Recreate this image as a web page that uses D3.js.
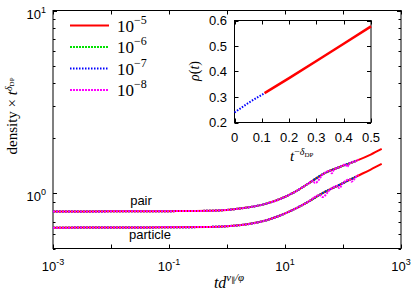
<!DOCTYPE html>
<html>
<head>
<meta charset="utf-8">
<script src="https://cdn.jsdelivr.net/npm/d3@7"></script>
<style>
  body { margin: 0; background: #fff; }
  svg { display: block; }
  .tick-label { font-family: "Liberation Sans", Arial, sans-serif; font-size: 13px; fill: #000; }
  .serif { font-family: "Liberation Serif", "DejaVu Serif", serif; fill: #000; }
</style>
</head>
<body>
<div id="main"></div>
<script>
// ---- data ----
const legendLabels = ["-5", "-6", "-7", "-8"];
const seriesColors = ["#ff0000", "#00e000", "#0000ff", "#ff00ff"];
const seriesDash = [null, "2,1", "1.5,1.5", "2,1"];

// t d^(nu/phi) vs density * t^delta, smallest d (10^-5) reaches furthest
const pairT   = [0.001, 0.01, 0.1, 0.5, 1, 2.2, 4.8, 8.2, 14.8, 25, 46, 90, 172, 300, 465];
const pairV   = [0.797, 0.798, 0.800, 0.804, 0.813, 0.837, 0.880, 0.932, 1.02, 1.13, 1.28, 1.40, 1.51, 1.63, 1.75];
const partT   = [0.001, 0.01, 0.1, 0.5, 1, 2.2, 4.8, 8.2, 14.8, 25, 46, 90, 172, 300, 465];
const partV   = [0.650, 0.651, 0.653, 0.656, 0.662, 0.678, 0.714, 0.757, 0.823, 0.90, 1.01, 1.12, 1.24, 1.35, 1.45];
// magenta (10^-8) shows a few noisy dips near the end
const pairMagT = [0.001, 0.1, 0.5, 1, 2.2, 4.8, 8.2, 14.8, 25, 30, 33, 46, 60, 64, 70, 90, 110, 118, 130, 172, 185];
const pairMagV = [0.797, 0.800, 0.804, 0.813, 0.837, 0.880, 0.932, 1.02, 1.13, 1.17, 1.14, 1.28, 1.33, 1.29, 1.35, 1.40, 1.44, 1.40, 1.46, 1.51, 1.53];
const partMagT = [0.001, 0.1, 0.5, 1, 2.2, 4.8, 8.2, 14.8, 25, 40, 44, 60, 80, 86, 100, 130, 140, 172, 185];
const partMagV = [0.650, 0.653, 0.656, 0.662, 0.678, 0.714, 0.757, 0.823, 0.90, 0.98, 0.955, 1.05, 1.10, 1.07, 1.14, 1.19, 1.16, 1.24, 1.26];
const otherEnd = 185;   // green/blue/magenta stop here

// inset: rho(t) vs t^-delta
const insetRedX  = [0.11, 0.2, 0.3, 0.4, 0.5];
const insetRedY  = [0.315, 0.374, 0.441, 0.509, 0.577];
const insetBlueX = [0, 0.05, 0.11];
const insetBlueY = [0.239, 0.276, 0.315];

const xTicks = [-3, -2, -1, 0, 1, 2, 3];
const xLabelExp = [-3, -1, 1, 3];
const insetXTicks = [0, 0.1, 0.2, 0.3, 0.4, 0.5];
const insetYTicks = [0.2, 0.3, 0.4, 0.5, 0.6];

const w = 415, h = 296;
const L = 53, R = 401, T = 10.5, B = 248.5;

const svg = d3.select("#main").append("svg").attr("width", w).attr("height", h);

const x = d3.scaleLog().domain([1e-3, 1e3]).range([L, R]);
const y = d3.scaleLog().domain([0.5, 10]).range([B, T]);

// frame
svg.append("rect").attr("x", L).attr("y", T).attr("width", R - L).attr("height", B - T)
  .attr("fill", "none").attr("stroke", "#000").attr("stroke-width", 1);

// x ticks (every decade, bottom and top, inward)
xTicks.forEach(e => {
  const px = Math.round(x(Math.pow(10, e))) + 0.5;
  svg.append("line").attr("x1", px).attr("x2", px).attr("y1", B).attr("y2", B - 4).attr("stroke", "#000");
  svg.append("line").attr("x1", px).attr("x2", px).attr("y1", T).attr("y2", T + 4).attr("stroke", "#000");
});
xLabelExp.forEach(e => {
  const t = svg.append("text").attr("class", "tick-label").attr("x", x(Math.pow(10, e)))
    .attr("y", 271).attr("text-anchor", "middle");
  t.append("tspan").text("10");
  t.append("tspan").attr("dy", -6).attr("font-size", 9).text(e);
});

// y ticks
const yMajor = [1, 10];
const yMinor = [0.5, 0.6, 0.7, 0.8, 0.9, 2, 3, 4, 5, 6, 7, 8, 9];
yMajor.concat(yMinor).forEach(v => {
  const len = yMajor.includes(v) ? 4 : 2.5;
  const py = Math.round(y(v)) + 0.5;
  svg.append("line").attr("x1", L).attr("x2", L + len).attr("y1", py).attr("y2", py).attr("stroke", "#000");
  svg.append("line").attr("x1", R).attr("x2", R - len).attr("y1", py).attr("y2", py).attr("stroke", "#000");
});
yMajor.forEach((v, i) => {
  const t = svg.append("text").attr("class", "tick-label").attr("x", 46)
    .attr("y", y(v) + 8).attr("text-anchor", "end");
  t.append("tspan").text("10");
  t.append("tspan").attr("dy", -6).attr("font-size", 9).text(i === 0 ? "0" : "1");
});

// curves
const clip = svg.append("clipPath").attr("id", "plotclip");
clip.append("rect").attr("x", L).attr("y", T).attr("width", R - L).attr("height", B - T);

const line = d3.line().x(d => x(d[0])).y(d => y(d[1])).curve(d3.curveMonotoneX);
const zipPts = (ts, vs) => ts.map((t, i) => [t, vs[i]]);
const cut = pts => pts.filter(p => p[0] <= otherEnd);

const curves = [
  [zipPts(pairT, pairV), zipPts(partT, partV)],
  [cut(zipPts(pairT, pairV)), cut(zipPts(partT, partV))],
  [cut(zipPts(pairT, pairV)), cut(zipPts(partT, partV))],
  [zipPts(pairMagT, pairMagV), zipPts(partMagT, partMagV)]
];
const g = svg.append("g").attr("clip-path", "url(#plotclip)");
curves.forEach((pair, k) => {
  pair.forEach(pts => {
    g.append("path").attr("d", line(pts)).attr("fill", "none")
      .attr("stroke", seriesColors[k]).attr("stroke-width", 2)
      .attr("stroke-dasharray", seriesDash[k]);
  });
});

svg.append("text").attr("class", "tick-label").attr("x", 141).attr("y", 205)
  .attr("text-anchor", "middle").text("pair");
svg.append("text").attr("class", "tick-label").attr("x", 150).attr("y", 239)
  .attr("text-anchor", "middle").text("particle");

// legend
legendLabels.forEach((lab, i) => {
  const ly = 25.5 + i * 21.5;
  svg.append("line").attr("x1", 70).attr("x2", 109).attr("y1", ly).attr("y2", ly)
    .attr("stroke", seriesColors[i]).attr("stroke-width", 2)
    .attr("stroke-dasharray", seriesDash[i]);
  const t = svg.append("text").attr("class", "serif").attr("x", 117).attr("y", ly + 6)
    .attr("font-size", 17);
  t.append("tspan").text("10");
  t.append("tspan").attr("dy", -8).attr("font-size", 12).text("\u2212" + lab.slice(1));
});

// axis titles
const yt = svg.append("text").attr("class", "serif").attr("font-size", 15)
  .attr("transform", "translate(17,116) rotate(-90)").attr("text-anchor", "middle");
yt.append("tspan").text("density \u00d7 ");
yt.append("tspan").attr("font-style", "italic").text("t");
yt.append("tspan").attr("dy", -5).attr("font-size", 10).attr("font-style", "italic").text("\u03b4");
yt.append("tspan").attr("dy", 2).attr("font-size", 7).text("DP");

const xt = svg.append("text").attr("class", "serif").attr("font-size", 16)
  .attr("x", 229).attr("y", 288).attr("text-anchor", "middle").attr("font-style", "italic");
xt.append("tspan").text("td");
xt.append("tspan").attr("dy", -7).attr("font-size", 11).text("\u03bd");
xt.append("tspan").attr("dy", 2).attr("font-size", 8).attr("font-style", "normal").text("\u2225");
xt.append("tspan").attr("dy", -2).attr("font-size", 11).text("/\u03c6");

// ---- inset ----
const iL = 234.5, iR = 371, iT = 20.5, iB = 122.5;
const ix = d3.scaleLinear().domain([0, 0.5]).range([iL, iR]);
const iy = d3.scaleLinear().domain([0.2, 0.6]).range([iB, iT]);

svg.append("rect").attr("x", iL).attr("y", iT).attr("width", iR - iL).attr("height", iB - iT)
  .attr("fill", "#fff").attr("stroke", "#000").attr("stroke-width", 1);

insetXTicks.forEach(v => {
  const px = Math.round(ix(v)) + 0.5;
  svg.append("line").attr("x1", px).attr("x2", px).attr("y1", iB).attr("y2", iB - 4).attr("stroke", "#000");
  svg.append("line").attr("x1", px).attr("x2", px).attr("y1", iT).attr("y2", iT + 4).attr("stroke", "#000");
  svg.append("text").attr("class", "tick-label").attr("x", ix(v)).attr("y", 142)
    .attr("text-anchor", "middle").text(v === 0 ? "0" : d3.format(".1f")(v));
});
insetYTicks.forEach(v => {
  const py = Math.round(iy(v)) + 0.5;
  svg.append("line").attr("x1", iL).attr("x2", iL + 4).attr("y1", py).attr("y2", py).attr("stroke", "#000");
  svg.append("line").attr("x1", iR).attr("x2", iR - 4).attr("y1", py).attr("y2", py).attr("stroke", "#000");
  svg.append("text").attr("class", "tick-label").attr("x", 227).attr("y", iy(v) + 4.5)
    .attr("text-anchor", "end").text(d3.format(".1f")(v));
});

const iline = d3.line().x(d => ix(d[0])).y(d => iy(d[1])).curve(d3.curveMonotoneX);
svg.append("path").attr("d", iline(zipPts(insetBlueX, insetBlueY))).attr("fill", "none")
  .attr("stroke", "#0000ff").attr("stroke-width", 2).attr("stroke-dasharray", "1.5,1.5");
svg.append("path").attr("d", iline(zipPts(insetRedX, insetRedY))).attr("fill", "none")
  .attr("stroke", "#ff0000").attr("stroke-width", 2.5);

const rt = svg.append("text").attr("class", "serif").attr("font-size", 14)
  .attr("transform", "translate(199,71) rotate(-90)").attr("text-anchor", "middle");
rt.append("tspan").attr("font-style", "italic").text("\u03c1");
rt.append("tspan").text("(");
rt.append("tspan").attr("font-style", "italic").text("t");
rt.append("tspan").text(")");

const it = svg.append("text").attr("class", "serif").attr("font-size", 15)
  .attr("x", 290).attr("y", 161).attr("fill", "#444");
it.append("tspan").attr("font-style", "italic").text("t");
it.append("tspan").attr("dy", -6).attr("font-size", 10).text("\u2212");
it.append("tspan").attr("font-size", 10).attr("font-style", "italic").text("\u03b4");
it.append("tspan").attr("dy", 2).attr("font-size", 7).text("DP");
</script>
</body>
</html>
